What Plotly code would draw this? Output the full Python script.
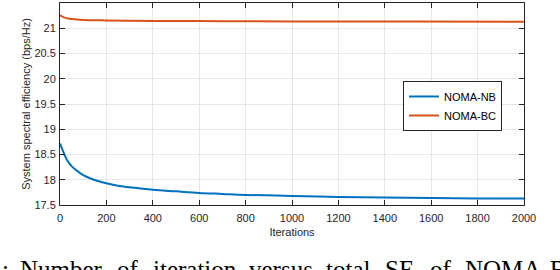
import plotly.graph_objects as go

iters_nb = [0, 10, 20, 30, 50, 75, 100, 130, 160, 200, 250, 300, 400, 500, 600, 700, 800, 1000, 1200, 1400, 1600, 1800, 2000]
se_nb = [18.72, 18.60, 18.49, 18.39, 18.27, 18.17, 18.09, 18.03, 17.98, 17.93, 17.88, 17.85, 17.80, 17.77, 17.74, 17.72, 17.70, 17.68, 17.66, 17.65, 17.64, 17.63, 17.63]

iters_bc = [0, 10, 20, 40, 70, 100, 200, 400, 700, 1000, 1500, 2000]
se_bc = [21.26, 21.23, 21.21, 21.19, 21.175, 21.165, 21.155, 21.145, 21.14, 21.135, 21.133, 21.13]

x_ticks = [0, 200, 400, 600, 800, 1000, 1200, 1400, 1600, 1800, 2000]
y_ticks = [17.5, 18, 18.5, 19, 19.5, 20, 20.5, 21, 21.5]
y_tick_labels = ["17.5", "18", "18.5", "19", "19.5", "20", "20.5", "21", "21.5"]

caption_words = [":", "Number", "of", "iteration", "versus", "total", "SE", "of", "NOMA-B"]
caption_x_px = [0, 18, 115, 151, 247, 324, 383, 428, 463]

W, H = 560, 270
L, R, T, B = 60, 36, 3, 65
pw = W - L - R
ph = H - T - B

fig = go.Figure()
fig.add_trace(go.Scatter(x=iters_nb, y=se_nb, mode="lines", name="NOMA-NB",
                         line=dict(color="#0072BD", width=2, shape="spline")))
fig.add_trace(go.Scatter(x=iters_bc, y=se_bc, mode="lines", name="NOMA-BC",
                         line=dict(color="#D95319", width=2, shape="spline")))

axis_common = dict(showline=True, linecolor="#262626", linewidth=1, mirror="ticks",
                   ticks="inside", ticklen=5, tickcolor="#262626",
                   showgrid=True, gridcolor="#E6E6E6", gridwidth=1, zeroline=False,
                   tickfont=dict(family="Liberation Sans, Arial", size=11, color="#262626"))

fig.update_xaxes(range=[0, 2000], tickvals=x_ticks, ticklabelstandoff=3,
                 title=dict(text="Iterations", font=dict(family="Liberation Sans, Arial", size=11, color="#262626"), standoff=5),
                 **axis_common)
fig.update_yaxes(range=[17.5, 21.5], tickvals=y_ticks, ticktext=y_tick_labels, ticklabelstandoff=1,
                 title=dict(text="System spectral efficiency (bps/Hz)", font=dict(family="Liberation Sans, Arial", size=11, color="#262626"), standoff=1),
                 **axis_common)

annotations = []
for w, px in zip(caption_words, caption_x_px):
    annotations.append(dict(text=w, xref="paper", yref="paper",
                            x=(px - L) / pw, y=-(269.5 - T - ph) / ph,
                            xanchor="left", yanchor="middle", showarrow=False,
                            font=dict(family="Liberation Serif, Times New Roman", size=25, color="black")))

fig.update_layout(
    width=W, height=H,
    margin=dict(l=L, r=R, t=T, b=B, autoexpand=False),
    paper_bgcolor="white", plot_bgcolor="white",
    showlegend=True,
    legend=dict(x=(403 - L) / pw, y=1 - (81 - T) / ph, xanchor="left", yanchor="top",
                bgcolor="white", bordercolor="#262626", borderwidth=1,
                font=dict(family="Liberation Sans, Arial", size=11, color="black"),
                tracegroupgap=0, itemwidth=30),
    annotations=annotations,
)

fig.write_html("out.html", config={"displayModeBar": False},
               post_script="document.body.style.margin='0';document.body.style.overflow='hidden';")
